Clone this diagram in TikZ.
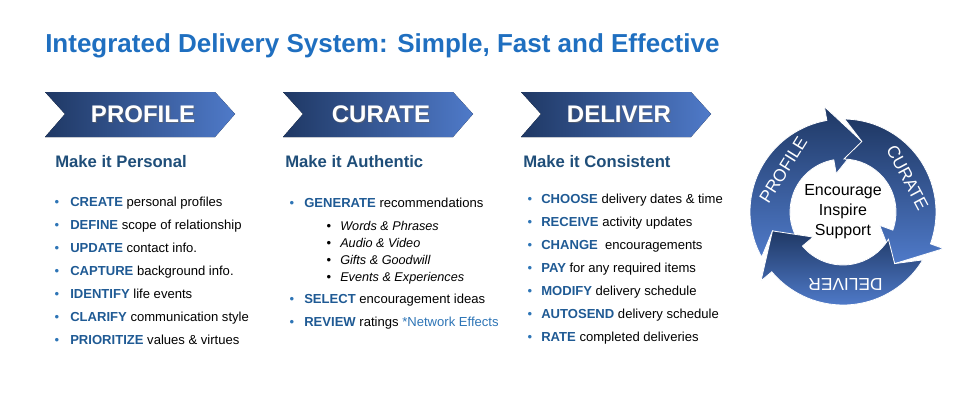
\documentclass[tikz,border=0pt]{standalone}
\usepackage{fontspec}
\setmainfont{Liberation Sans}
\definecolor{ttl}{HTML}{1F6FC0}
\definecolor{hd}{HTML}{1F4E79}
\definecolor{kw}{HTML}{1F5A94}
\definecolor{bl}{HTML}{2E75B6}
\definecolor{dk}{HTML}{1F3864}
\definecolor{lt}{HTML}{4F7AC9}
\tikzset{
 chev/.style={left color=dk,right color=lt,draw=none},
 chevtxt/.style={text=white,font=\fontsize{18}{20}\selectfont\bfseries},
 head/.style={anchor=base west,text=hd,font=\fontsize{12.5}{14}\selectfont\bfseries,inner sep=0},
 item/.style={anchor=base west,font=\fontsize{9.8}{12}\selectfont,inner sep=0},
 sub/.style={anchor=base west,font=\fontsize{9.5}{12}\selectfont\itshape,inner sep=0},
 bul/.style={anchor=base,text=bl,font=\fontsize{9.8}{12}\selectfont,inner sep=0},
 ring/.style={left color=dk,right color=lt,shading angle=0,draw=white,line width=0.6pt},
 ringtxt/.style={text=white,inner sep=0,font=\fontsize{13}{14}\selectfont},
}
\newcommand{\kwd}[1]{\textcolor{kw}{\textbf{#1}}}
\newcommand{\chevron}[3]{%
 \fill[chev] (#1,92) -- (#1+170,92) -- (#1+190,114) -- (#1+170,137) -- (#1,137) -- (#1+20,114) -- cycle;
 \node[chevtxt,text=black!60,opacity=0.6] at (#1+99,115.5) {#2};
 \node[chevtxt] (#3) at (#1+98,114) {#2};}
\newcommand{\ringarrow}[1]{%
 \path[ring] (#1+14:93) arc[start angle=#1+14,end angle=#1-95,radius=93] -- (#1-95:107) -- (#1-120:73) -- (#1-95:39) -- (#1-95:53) arc[start angle=#1-95,end angle=#1+14,radius=53] -- (#1:73) -- cycle;}
\begin{document}
\begin{tikzpicture}[x=0.75pt,y=-0.75pt]
\useasboundingbox (0,0) rectangle (957,400);
\node[anchor=base west,inner sep=0,text=ttl,font=\fontsize{19.5}{22}\selectfont\bfseries] (title) at (45,52) {Integrated Delivery System: Simple, Fast and Effective};
\chevron{45}{PROFILE}{c1}
\chevron{283}{CURATE}{c2}
\chevron{521}{DELIVER}{c3}
\node[head] (h1) at (55,167) {Make it Personal};
\node[head] (h2) at (285,167) {Make it Authentic};
\node[head] (h3) at (523,167) {Make it Consistent};
% column 1
\foreach \y/\t [count=\i] in {206/{\kwd{CREATE} personal profiles},229/{\kwd{DEFINE} scope of relationship},252/{\kwd{UPDATE} contact info.},275/{\kwd{CAPTURE} background info.},298/{\kwd{IDENTIFY} life events},321/{\kwd{CLARIFY} communication style},344/{\kwd{PRIORITIZE} values \& virtues}}{
 \node[bul] (ba\i) at (57,\y) {•};
 \node[item] (a\i) at (70,\y) {\t};}
% column 2
\node[bul] (bb1) at (292,207) {•};
\node[item] (b1) at (304,207) {\kwd{GENERATE} recommendations};
\foreach \y/\t [count=\i] in {230/{Words \& Phrases},247/{Audio \& Video},264/{Gifts \& Goodwill},281/{Events \& Experiences}}{
 \node[bul,text=black] (bs\i) at (329,\y) {•};
 \node[sub] (s\i) at (340,\y) {\t};}
\node[bul] (bb2) at (292,303) {•};
\node[item] (b2) at (304,303) {\kwd{SELECT} encouragement ideas};
\node[bul] (bb3) at (292,326) {•};
\node[item] (b3) at (304,326) {\kwd{REVIEW} ratings \textcolor{bl}{*Network Effects}};
% column 3
\foreach \y/\t [count=\i] in {203/{\kwd{CHOOSE} delivery dates \& time},226/{\kwd{RECEIVE} activity updates},249/{\kwd{CHANGE}\ \ encouragements},272/{\kwd{PAY} for any required items},295/{\kwd{MODIFY} delivery schedule},318/{\kwd{AUTOSEND} delivery schedule},341/{\kwd{RATE} completed deliveries}}{
 \node[bul] (bc\i) at (530,\y) {•};
 \node[item] (c\i) at (541,\y) {\t};}
% ring
\begin{scope}[shift={(843,212)},yscale=-1]
 \ringarrow{195}
 \ringarrow{75}
 \ringarrow{-45}
 \node[ringtxt,rotate=58] (rp) at (145:73) {PROFILE};
 \node[ringtxt,rotate=-62] (rc) at (28:73) {CURATE};
 \node[ringtxt,rotate=180] (rd) at (-88:73) {DELIVER};
 \node[align=center,font=\fontsize{12}{15}\selectfont] (ctr) at (0,0) {Encourage\\Inspire\\Support};
\end{scope}
\end{tikzpicture}
\end{document}
